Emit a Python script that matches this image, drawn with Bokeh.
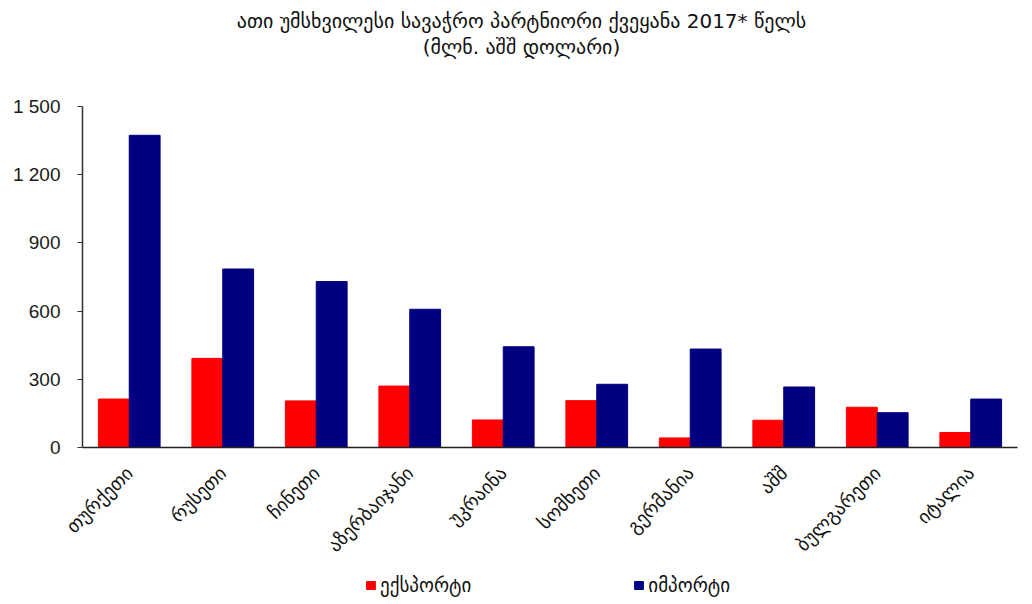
import math
from bokeh.plotting import figure
from bokeh.models import (Range1d, FixedTicker, Legend, LegendItem,
                          Label, ColumnDataSource, LinearAxis)
from bokeh.transform import dodge
from bokeh.embed import file_html
from bokeh.resources import INLINE

# ---- data ----
countries = ["თურქეთი", "რუსეთი", "ჩინეთი", "აზერბაიჯანი", "უკრაინა",
             "სომხეთი", "გერმანია", "აშშ", "ბულგარეთი", "იტალია"]
exports = [213, 392, 205, 270, 121, 206, 42, 120, 177, 66]
imports = [1373, 785, 730, 608, 443, 278, 433, 266, 153, 213]
series_names = ["ექსპორტი", "იმპორტი"]
y_ticks = [0, 300, 600, 900, 1200, 1500]
y_tick_labels = ["0", "300", "600", "900", "1 200", "1 500"]
title_lines = ["ათი უმსხვილესი სავაჭრო პარტნიორი ქვეყანა 2017* წელს",
               "(მლნ. აშშ დოლარი)"]

# ---- styles / layout ----
colors = ["#FF0000", "#000080"]
geo_font = "DejaVu Sans"
num_font = "Liberation Sans"
# the frame spans the whole canvas; axes are drawn at fixed locations inside it
x_view = (-0.877, 10.075)
y_view = (-673, 1966)
title_y = [1878, 1760]
title_x = 4.695

# category slots: one unit per country, centred on i + 0.5
slots = [i + 0.5 for i in range(len(countries))]
source = ColumnDataSource(dict(slot=slots, exports=exports, imports=imports))

p = figure(width=1024, height=600, output_backend="svg", toolbar_location=None,
           x_range=Range1d(*x_view), y_range=Range1d(*y_view),
           x_axis_type=None,
           min_border_left=0, min_border_right=0,
           min_border_top=0, min_border_bottom=0)

p.outline_line_color = None
p.xgrid.grid_line_color = None
p.ygrid.grid_line_color = None
p.background_fill_color = "white"
p.border_fill_color = "white"

r1 = p.vbar(x=dodge("slot", -0.165), top="exports", width=0.33,
            source=source, fill_color=colors[0], line_color=colors[0])
r2 = p.vbar(x=dodge("slot", 0.165), top="imports", width=0.33,
            source=source, fill_color=colors[1], line_color=colors[1])

# y axis, drawn at the left edge of the first category
p.yaxis.fixed_location = 0
p.yaxis.bounds = (y_ticks[0], y_ticks[-1])
p.yaxis.ticker = FixedTicker(ticks=y_ticks)
p.yaxis.major_label_overrides = {t: l for t, l in zip(y_ticks, y_tick_labels)}
p.yaxis.major_label_text_font = num_font
p.yaxis.major_label_text_font_size = "19px"
p.yaxis.major_label_text_color = "#1a1a1a"
p.yaxis.major_tick_out = 5
p.yaxis.major_tick_in = 0
p.yaxis.minor_tick_line_color = None
p.yaxis.major_tick_line_color = "#333333"
p.yaxis.axis_line_color = "#333333"
p.yaxis.axis_line_width = 1.5
p.yaxis.major_label_standoff = 17

# category axis, drawn at value 0
xaxis = LinearAxis(fixed_location=0, bounds=(0, len(countries)),
                   ticker=FixedTicker(ticks=slots),
                   major_label_overrides={s: c for s, c in zip(slots, countries)})
xaxis.major_label_orientation = math.pi / 4
xaxis.major_tick_line_color = None
xaxis.minor_tick_line_color = None
xaxis.axis_line_color = "#222222"
xaxis.axis_line_width = 1.5
xaxis.major_label_text_font = geo_font
xaxis.major_label_text_font_size = "19px"
xaxis.major_label_text_color = "#111111"
xaxis.major_label_standoff = 16
p.add_layout(xaxis, "below")

# title (two lines)
for text, yy in zip(title_lines, title_y):
    p.add_layout(Label(x=title_x, y=yy, text=text,
                       text_align="center", text_baseline="middle",
                       text_font=geo_font, text_font_size="20px",
                       text_color="#111111"))

# legend
leg = Legend(items=[LegendItem(label=series_names[0], renderers=[r1]),
                    LegendItem(label=series_names[1], renderers=[r2])],
             location=(365, 4), orientation="horizontal", spacing=162,
             border_line_color=None, background_fill_alpha=0, padding=0, margin=0,
             glyph_width=11, glyph_height=10, label_standoff=4,
             label_text_font=geo_font, label_text_font_size="19px",
             label_text_color="#111111", label_height=20)
p.add_layout(leg, "center")

open("out.html", "w").write(file_html(p, INLINE))
